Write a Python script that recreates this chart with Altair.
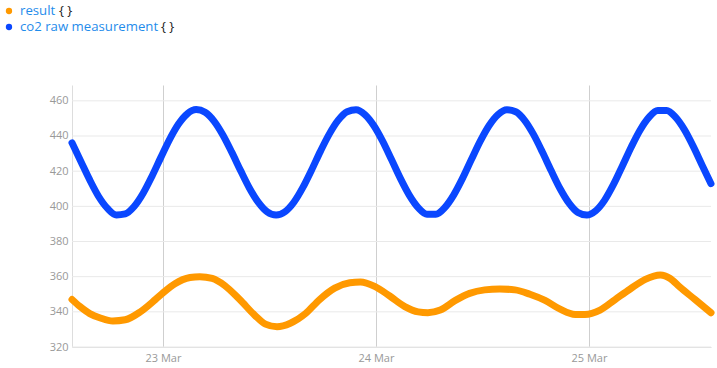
import altair as alt
import pandas as pd

START = pd.Timestamp("2021-03-22 13:45")

# co2 raw measurement (hourly offsets from start)
blue_hours = list(range(73))
blue_vals = [436.1, 425.5, 415, 405.6, 398.8, 395.1,
             395.7, 399.9, 407.3, 417, 427.7,
             438.1, 446.8, 452.7, 455, 453.5,
             448.5, 440.6, 430.8, 420.3, 410.3,
             402.2, 396.8, 395, 396.9, 402.3,
             410.6, 420.7, 431.4, 441.2, 449,
             453.8, 454.9, 452.2, 446, 437.1,
             426.6, 415.9, 406.4, 399.3, 395.5,
             395.5, 399.3, 406.4, 415.9, 426.6,
             437.1, 446, 452.2, 454.9, 453.8,
             448.9, 440.9, 430.9, 420.2, 410,
             401.8, 396.5, 395, 397.4, 403.4,
             412.3, 422.8, 433.6, 443.3, 450.6,
             454.5, 454.5, 450.7, 443.6, 434.1,
             423.4, 412.9]

# result
orange_hours = [0, 0.9, 2.0, 3.2, 4.6, 6.0, 7.7, 9.4, 10.3, 11.6, 13.3, 14.4, 15.8, 17.2, 18.9,
                20.6, 21.8, 23.1, 24.6, 26.3, 27.9, 29.6, 31.3, 32.5, 34.1, 35.8, 37.5, 39.0, 40.1,
                41.5, 43.2, 44.8, 46.5, 48.2, 49.9, 51.6, 53.3, 55.0, 56.7, 57.8, 59.5, 61.2, 62.9,
                64.6, 66.3, 67.4, 68.5, 70.2, 72.0]
orange_vals = [347, 343, 339, 336.5, 334.8, 335.5, 340, 347, 351, 356, 359.5, 360, 359, 355, 347,
               338, 333, 331.5, 333.5, 339, 347, 353.5, 356.5, 357, 354.5, 349, 343, 340, 339.5,
               341, 346.5, 350.5, 352.5, 353, 352.5, 350, 346.5, 341.5, 338.5, 338.5, 341, 347, 353,
               358.5, 361, 359, 354, 347, 339.5]

series_names = ["result", "co2 raw measurement"]
series_colors = ["#ff9900", "#0a47ff"]
y_ticks = [320, 340, 360, 380, 400, 420, 440, 460]


def ts(hours):
    return [(START + pd.Timedelta(hours=h)).strftime("%Y-%m-%dT%H:%M:%S") for h in hours]


df = pd.concat([
    pd.DataFrame({"time": ts(orange_hours), "value": orange_vals, "series": series_names[0]}),
    pd.DataFrame({"time": ts(blue_hours), "value": blue_vals, "series": series_names[1]}),
])

x_domain = [alt.DateTime(year=2021, month=3, date=22, hours=13, minutes=45),
            alt.DateTime(year=2021, month=3, date=25, hours=13, minutes=45)]
x_ticks = [alt.DateTime(year=2021, month=3, date=d) for d in (23, 24, 25)]

y_axis = alt.Axis(values=y_ticks, labelColor="#999999", labelFontSize=11,
                  labelFont="Open Sans", ticks=False, grid=False, labelOverlap=False,
                  domainColor="#dddddd", labelPadding=4)
y_scale = alt.Scale(domain=[320, 469], nice=False, zero=False)

grid_y = alt.Chart(pd.DataFrame({"v": y_ticks})).mark_rule(color="#e9e9e9", strokeWidth=1).encode(
    y=alt.Y("v:Q", title=None, scale=y_scale, axis=y_axis)
)

lines = alt.Chart(df).mark_line(strokeWidth=7, strokeCap="round", strokeJoin="round",
                                interpolate="monotone").encode(
    x=alt.X("time:T", title=None,
            scale=alt.Scale(domain=x_domain, nice=False),
            axis=alt.Axis(values=x_ticks, format="%d %b", labelColor="#999999", labelFontSize=11,
                          labelFont="Open Sans", ticks=False, grid=True, gridColor="#cfcfcf",
                          domainColor="#dddddd", labelPadding=5)),
    y=alt.Y("value:Q", title=None, scale=y_scale, axis=y_axis),
    color=alt.Color("series:N", scale=alt.Scale(domain=series_names, range=series_colors),
                    legend=None),
)


def legend_entry(i, ypix, brace_x):
    d = pd.DataFrame({"label": [series_names[i]], "brace": ["{ }"]})
    c = alt.Chart(d)
    dot = c.mark_point(shape="circle", filled=True, size=40, opacity=1,
                       color=series_colors[i]).encode(x=alt.value(-63), y=alt.value(ypix))
    txt = c.mark_text(align="left", baseline="middle", fontSize=13.2, font="Open Sans",
                      color="#1f8ceb").encode(x=alt.value(-52), y=alt.value(ypix), text="label:N")
    br = c.mark_text(align="left", baseline="middle", fontSize=13.2, font="Open Sans",
                     color="#222222").encode(x=alt.value(brace_x), y=alt.value(ypix), text="brace:N")
    return dot + txt + br


chart = alt.layer(
    grid_y, lines,
    legend_entry(0, -74, -13),
    legend_entry(1, -58, 89),
).resolve_axis(y="shared").properties(
    width=639, height=262,
    autosize="none",
    padding={"left": 72, "top": 85, "right": 6, "bottom": 21},
).configure_view(stroke=None).configure_axis(labelOverlap=False)

chart.save("out.html", embed_options={"renderer": "svg", "actions": False})
